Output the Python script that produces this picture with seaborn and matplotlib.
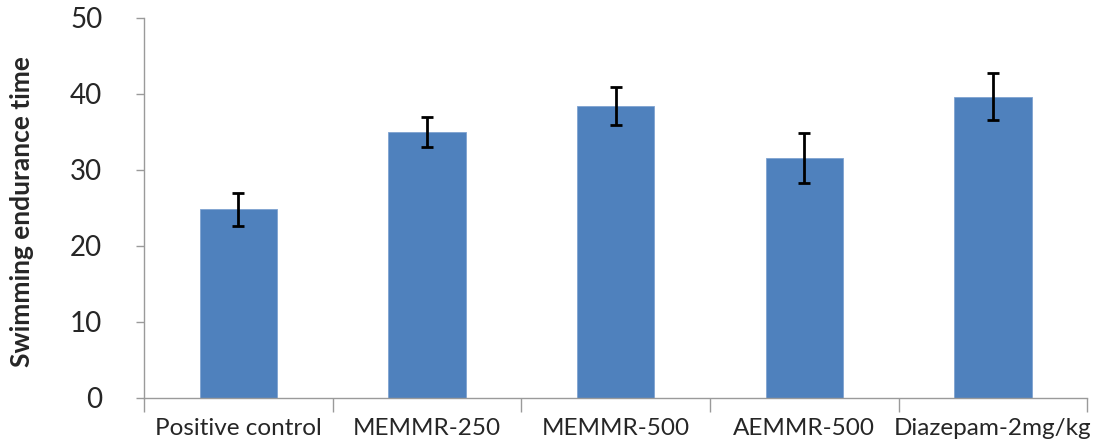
import matplotlib
matplotlib.use("Agg")
import matplotlib.pyplot as plt
import seaborn as sns
import pandas as pd

groups = ["Positive control", "MEMMR-250", "MEMMR-500", "AEMMR-500", "Diazepam-2mg/kg"]
endurance = [24.8, 35.0, 38.4, 31.5, 39.6]
errors = [2.2, 2.0, 2.5, 3.3, 3.1]
y_ticks = [0, 10, 20, 30, 40, 50]

sns.set_style("white")
plt.rcParams["font.family"] = ["Lato", "DejaVu Sans"]

df = pd.DataFrame({"group": groups, "time": endurance})

fig = plt.figure(figsize=(10.96, 4.44), dpi=100)
ax = fig.add_axes([0.1314, 0.1047, 0.8606, 0.8548])

sns.barplot(data=df, x="group", y="time", color="#4F81BD", saturation=1,
            width=0.41, errorbar=None, ax=ax, edgecolor="#7FA3D1", linewidth=0.6)
ax.errorbar(range(len(groups)), endurance, yerr=errors, fmt="none",
            ecolor="black", elinewidth=2, capsize=4, capthick=2)

ax.set_xlim(-0.5, len(groups) - 0.5)
ax.set_ylim(0, 50)
ax.set_yticks(y_ticks)
ax.tick_params(axis="y", which="major", direction="out", length=6, width=1,
               color="#9A9A9A", labelsize=20, pad=24, left=True)

ax.set_xticks(range(len(groups)))
ax.set_xticklabels(groups)
ax.set_xticks([i - 0.5 for i in range(len(groups) + 1)], minor=True)
ax.tick_params(axis="x", which="major", length=0, labelsize=17.5, pad=15)
ax.tick_params(axis="x", which="minor", direction="out", length=10, width=1,
               color="#9A9A9A", bottom=True)

for side in ("top", "right"):
    ax.spines[side].set_visible(False)
for side in ("left", "bottom"):
    ax.spines[side].set_color("#9A9A9A")
    ax.spines[side].set_linewidth(1)

ax.set_xlabel("")
ax.set_ylabel("Swimming endurance time", fontsize=19, fontweight="bold")
ax.yaxis.set_label_coords(-0.117, 0.49)

fig.savefig("out.png", dpi=100)
